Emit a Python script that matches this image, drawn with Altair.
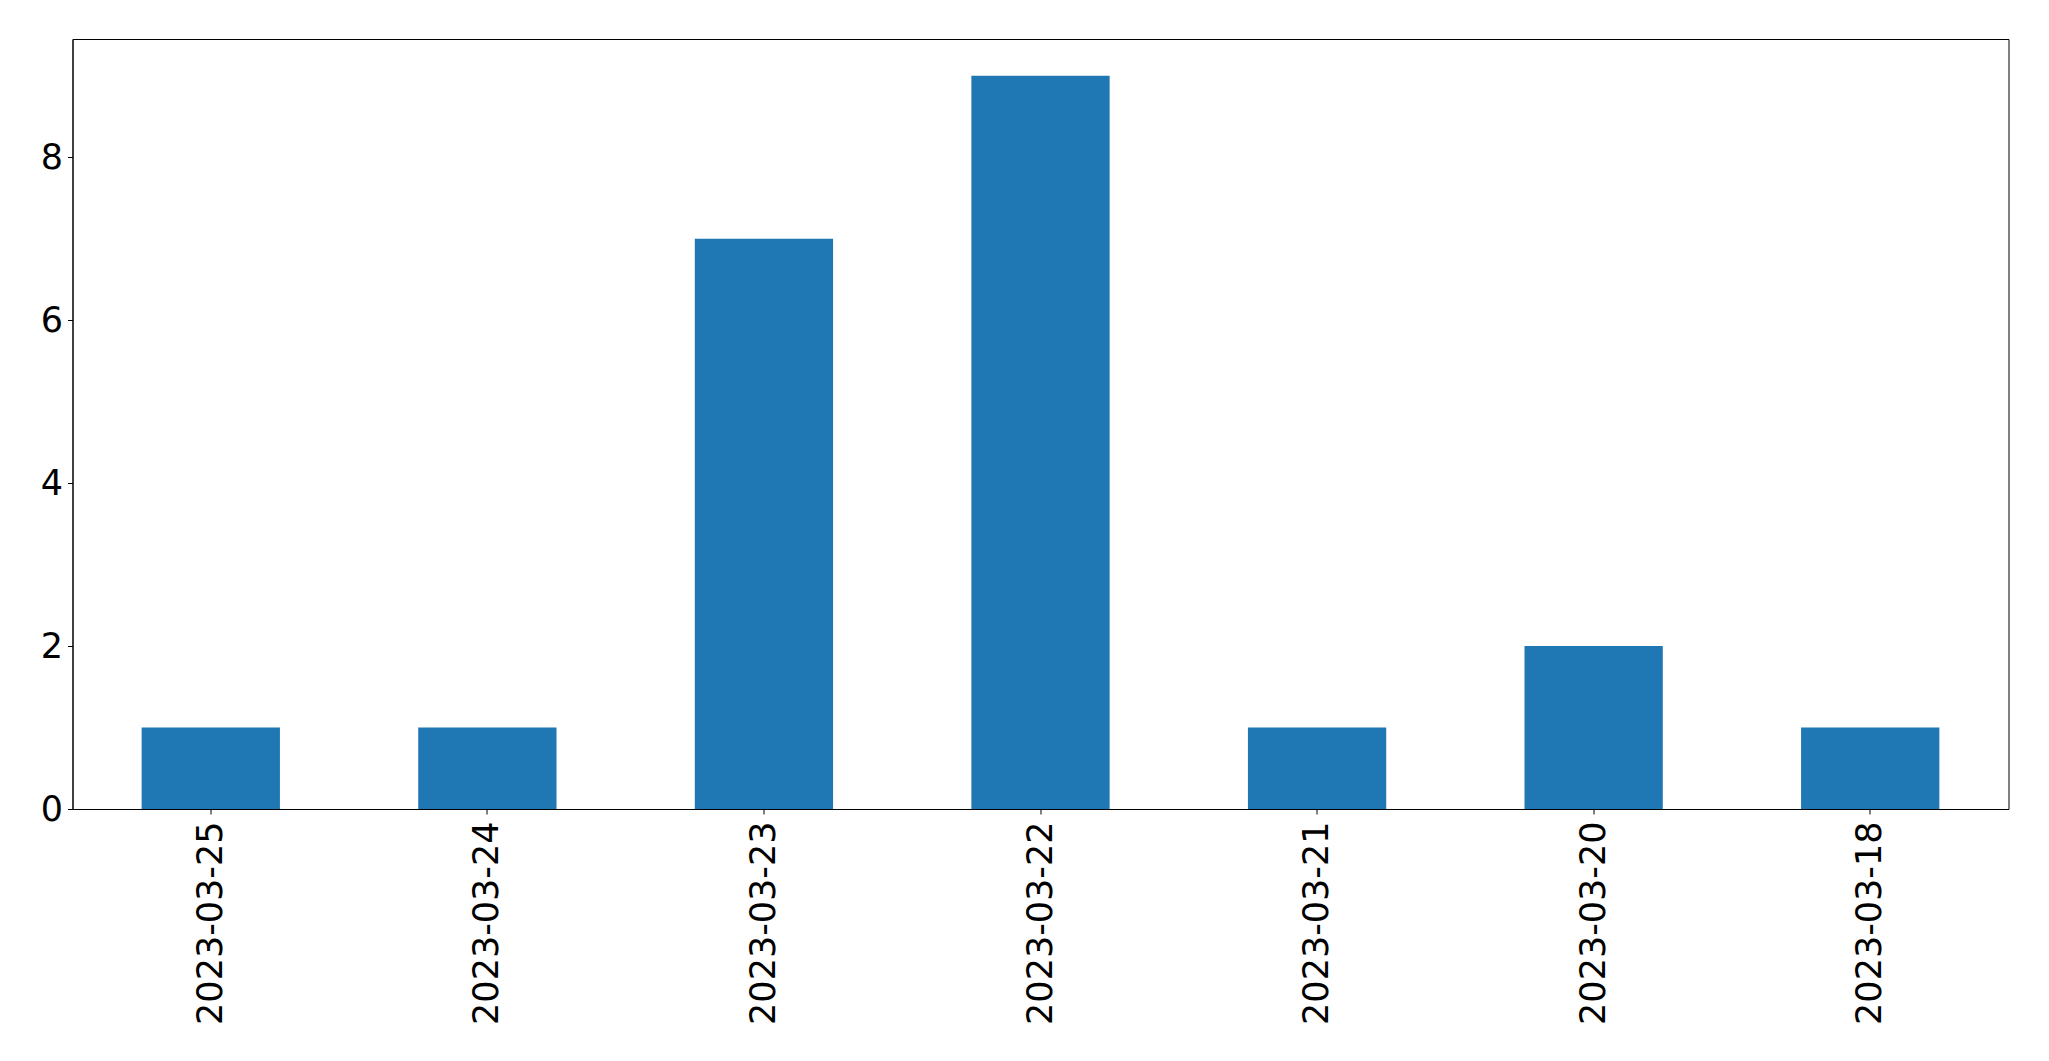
import altair as alt
import pandas as pd

dates = ["2023-03-25", "2023-03-24", "2023-03-23", "2023-03-22", "2023-03-21", "2023-03-20", "2023-03-18"]
counts = [1, 1, 7, 9, 1, 2, 1]
y_ticks = [0, 2, 4, 6, 8]

df = pd.DataFrame({"date": dates, "count": counts})

FONT = "DejaVu Sans"

chart = alt.Chart(df).mark_bar(color="#1f77b4").encode(
    x=alt.X("date:N", sort=None, title=None,
            scale=alt.Scale(paddingInner=0.5, paddingOuter=0.25),
            axis=alt.Axis(labelAngle=270, labelFontSize=35, labelFont=FONT, labelColor="black",
                          labelLimit=0, tickColor="black", tickSize=5, tickWidth=1, labelPadding=7,
                          domainColor="black", domainWidth=1, grid=False)),
    y=alt.Y("count:Q", title=None,
            scale=alt.Scale(domain=[0, 9.45], nice=False, zero=True),
            axis=alt.Axis(values=y_ticks, labelFontSize=35, labelFont=FONT, labelColor="black",
                          tickColor="black", tickSize=5, tickWidth=1, labelPadding=5,
                          domainColor="black", domainWidth=1, grid=False)),
).properties(
    width=1936,
    height=770,
    background="white",
    autosize=alt.AutoSizeParams(type="none"),
    padding={"left": 64.5, "top": 31, "right": 20, "bottom": 220},
).configure_view(
    stroke="black", strokeWidth=1
)

chart.save("out.html", embed_options={"renderer": "svg", "actions": False})
